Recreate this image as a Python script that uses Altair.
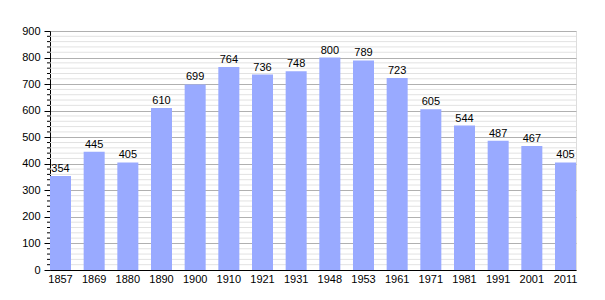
import altair as alt
import pandas as pd

years = ["1857", "1869", "1880", "1890", "1900", "1910", "1921", "1931",
         "1948", "1953", "1961", "1971", "1981", "1991", "2001", "2011"]
population = [354, 445, 405, 610, 699, 764, 736, 748,
              800, 789, 723, 605, 544, 487, 467, 405]
major_ticks = [0, 100, 200, 300, 400, 500, 600, 700, 800, 900]
minor_ticks = [v for v in range(0, 901, 20) if v % 100 != 0]

df = pd.DataFrame({"year": years, "pop": population})
minor_df = pd.DataFrame({"v": minor_ticks})

yscale = alt.Scale(domain=[0, 900], nice=False)
FONT = "Liberation Sans"

yaxis = alt.Axis(title=None, values=major_ticks, grid=True, gridColor="#b0b0b0",
                 tickSize=6, tickColor="#000", domainColor="#000",
                 labelFont=FONT, labelFontSize=11, labelColor="#000",
                 labelPadding=4)

minor_grid = alt.Chart(minor_df).mark_rule(color="#e2e2e2", strokeWidth=1).encode(
    y=alt.Y("v:Q", scale=yscale, axis=yaxis),
    x=alt.value(0), x2=alt.value(526),
)
minor_tick = alt.Chart(minor_df).mark_rule(color="#000", strokeWidth=1).encode(
    y=alt.Y("v:Q", scale=yscale, axis=yaxis),
    x=alt.value(-3), x2=alt.value(0),
)

bars = alt.Chart(df).mark_bar(color="#99aaff").encode(
    x=alt.X("year:N", sort=years,
            scale=alt.Scale(paddingInner=0.376, paddingOuter=0),
            axis=alt.Axis(title=None, labelAngle=0, ticks=False, labelPadding=3,
                          domainColor="#000", labelFont=FONT, labelFontSize=11,
                          labelColor="#000", grid=False)),
    y=alt.Y("pop:Q", scale=yscale, axis=yaxis),
)
labels = alt.Chart(df).mark_text(dy=-7, font=FONT, fontSize=11, color="#000").encode(
    x=alt.X("year:N", sort=years),
    y=alt.Y("pop:Q", scale=yscale, axis=yaxis),
    text="pop:Q",
)

chart = alt.layer(minor_grid, minor_tick, bars, labels).properties(
    width=526, height=239,
    autosize=alt.AutoSizeParams(type="none"),
    padding={"left": 50, "top": 31, "right": 29, "bottom": 30},
).configure_view(stroke=None).configure(background="white")

chart.save("out.html", embed_options={"renderer": "svg", "actions": False})
